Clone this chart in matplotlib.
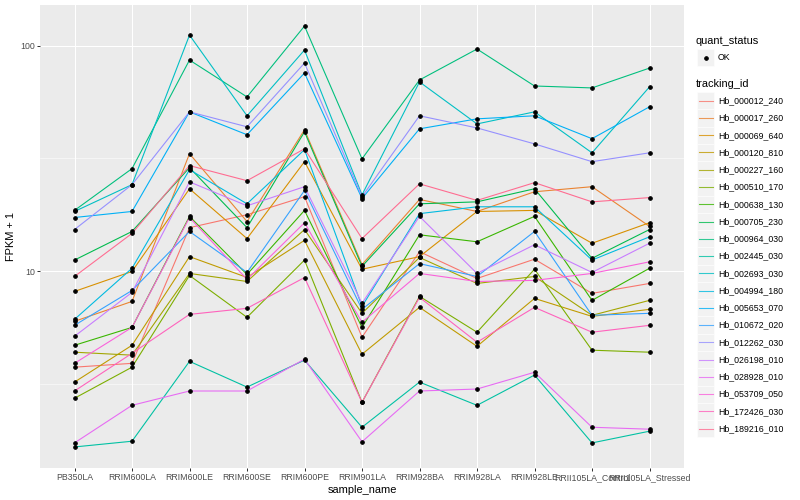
import numpy as np
import matplotlib.pyplot as plt
from matplotlib.ticker import NullFormatter
from matplotlib.patches import Rectangle

plt.rcParams['font.family'] = ['Liberation Sans', 'DejaVu Sans']

samples = ['PB350LA', 'RRIM600LA', 'RRIM600LE', 'RRIM600SE', 'RRIM600PE',
           'RRIM901LA', 'RRIM928BA', 'RRIM928LA', 'RRIM928LE',
           'RRII105LA_Control', 'RRII105LA_Stressed']

tracking_ids = ['Hb_000012_240', 'Hb_000017_260', 'Hb_000069_640', 'Hb_000120_810',
                'Hb_000227_160', 'Hb_000510_170', 'Hb_000638_130', 'Hb_000705_230',
                'Hb_000964_030', 'Hb_002445_030', 'Hb_002693_030', 'Hb_004994_180',
                'Hb_005653_070', 'Hb_010672_020', 'Hb_012262_030', 'Hb_026198_010',
                'Hb_028928_010', 'Hb_053709_050', 'Hb_172426_030', 'Hb_189216_010']

# FPKM + 1 per gene, in sample order
hb_000012_240 = [3.75, 3.90, 15.6, 17.8, 21.4, 5.09, 12.2, 9.28, 11.3, 7.97, 8.82]
hb_000017_260 = [5.99, 7.34, 33.2, 16.6, 42.4, 10.7, 20.8, 18.4, 22.5, 23.7, 15.8]
hb_000069_640 = [8.13, 9.97, 23.2, 13.95, 30.6, 10.2, 11.6, 18.4, 18.6, 13.3, 16.4]
hb_000120_810 = [3.22, 4.69, 11.6, 9.38, 13.7, 4.28, 6.91, 4.64, 7.57, 6.30, 6.77]
hb_000227_160 = [4.37, 4.24, 9.77, 9.00, 15.3, 6.50, 11.5, 8.82, 9.47, 6.37, 7.42]
hb_000510_170 = [2.73, 3.75, 9.57, 6.24, 11.2, 2.62, 7.73, 5.36, 10.2, 4.46, 4.37]
hb_000638_130 = [4.69, 5.63, 17.5, 9.67, 18.6, 5.63, 14.5, 13.5, 17.5, 7.42, 10.3]
hb_000705_230 = [11.2, 15.0, 28.8, 15.6, 41.5, 10.5, 19.9, 20.3, 23.2, 11.4, 15.3]
hb_000964_030 = [18.6, 28.5, 86.4, 59.3, 122.3, 31.5, 70.5, 96.7, 66.3, 65.0, 79.6]
hb_002445_030 = [1.66, 1.76, 3.98, 3.06, 4.03, 2.03, 3.22, 2.54, 3.46, 1.73, 1.95]
hb_002693_030 = [18.4, 24.2, 111.5, 48.9, 95.7, 21.8, 69.1, 45.0, 50.9, 33.5, 65.7]
hb_004994_180 = [6.11, 10.3, 28.2, 19.9, 34.6, 6.98, 18.0, 19.3, 19.3, 11.2, 14.2]
hb_005653_070 = [17.3, 18.4, 50.9, 40.3, 75.7, 21.0, 42.8, 47.4, 48.9, 38.7, 53.6]
hb_010672_020 = [5.75, 8.21, 15.0, 9.87, 22.8, 6.77, 10.8, 9.47, 15.0, 6.37, 6.50]
hb_012262_030 = [15.3, 24.2, 50.9, 43.7, 83.8, 21.4, 48.9, 43.2, 36.7, 30.6, 33.5]
hb_026198_010 = [5.14, 8.05, 24.9, 19.5, 23.7, 7.20, 17.5, 9.77, 13.1, 9.87, 13.3]
hb_028928_010 = [1.73, 2.54, 2.94, 2.94, 4.07, 1.75, 2.94, 3.00, 3.56, 2.03, 1.99]
hb_053709_050 = [3.90, 5.63, 17.3, 9.19, 16.4, 5.93, 9.77, 9.00, 9.10, 9.77, 11.0]
hb_172426_030 = [2.94, 4.32, 6.43, 6.84, 9.37, 2.62, 7.65, 4.84, 6.91, 5.36, 5.75]
hb_189216_010 = [9.47, 14.7, 29.4, 25.2, 34.9, 13.95, 24.4, 20.6, 24.7, 20.3, 21.2]

series = [hb_000012_240, hb_000017_260, hb_000069_640, hb_000120_810,
          hb_000227_160, hb_000510_170, hb_000638_130, hb_000705_230,
          hb_000964_030, hb_002445_030, hb_002693_030, hb_004994_180,
          hb_005653_070, hb_010672_020, hb_012262_030, hb_026198_010,
          hb_028928_010, hb_053709_050, hb_172426_030, hb_189216_010]

# ggplot2 default hue palette for 20 groups
palette = ['#F8766D', '#EA8331', '#D89000', '#C09B00', '#A3A500', '#7CAE00',
           '#39B600', '#00BB4E', '#00BF7D', '#00C1A3', '#00BFC4', '#00BAE0',
           '#00B0F6', '#35A2FF', '#9590FF', '#C77CFF', '#E76BF3', '#FA62DB',
           '#FF62BC', '#FF6C91']

W, H = 800, 500
fig = plt.figure(figsize=(W / 72, H / 72), dpi=72)
ax = fig.add_axes([40 / W, 1 - 468 / H, (684 - 40) / W, (468 - 5) / H])
ax.set_facecolor('#EBEBEB')
for s in ax.spines.values():
    s.set_visible(False)

x = np.arange(len(samples))
for vals, col in zip(series, palette):
    ax.plot(x, vals, color=col, lw=1.1, zorder=2)
for vals in series:
    ax.plot(x, vals, 'o', color='black', ms=3.6, zorder=3)

ax.set_yscale('log')
allv = np.log10(np.concatenate([np.array(v) for v in series]))
lo, hi = allv.min(), allv.max()
pad = 0.05 * (hi - lo)
ax.set_ylim(10 ** (lo - pad), 10 ** (hi + pad))
ax.set_xlim(-0.6, len(samples) - 0.4)

ax.set_yticks([10, 100], labels=['10', '100'])
ax.set_yticks([10 ** 0.5, 10 ** 1.5], minor=True)
ax.yaxis.set_minor_formatter(NullFormatter())
ax.set_xticks(x, labels=samples)
ax.tick_params(which='major', length=2.75, width=1.0, color='#333333',
               labelsize=8.8, labelcolor='#4D4D4D', pad=2.2)
ax.tick_params(which='minor', length=0)
ax.set_axisbelow(True)
ax.grid(which='major', color='white', lw=1.07)
ax.grid(which='minor', axis='y', color='white', lw=0.55)

ax.set_xlabel('sample_name', fontsize=11, labelpad=3)
ax.set_ylabel('FPKM + 1', fontsize=11, labelpad=4)

# legends, in pixel coordinates
lax = fig.add_axes([0, 0, 1, 1])
lax.set_xlim(0, W)
lax.set_ylim(H, 0)
lax.axis('off')

lax.text(696, 41, 'quant_status', fontsize=11, va='center', ha='left')
lax.add_patch(Rectangle((697, 49), 17, 17, facecolor='#F2F2F2', edgecolor='white', lw=0.5))
lax.plot([705.5], [57.5], 'o', color='black', ms=3.6)
lax.text(718, 57.5, 'OK', fontsize=8.8, va='center', ha='left')

lax.text(696, 84, 'tracking_id', fontsize=11, va='center', ha='left')
for i, (name, col) in enumerate(zip(tracking_ids, palette)):
    yc = 100.7 + 17.26 * i
    lax.add_patch(Rectangle((697, yc - 8.6), 17, 17.26, facecolor='#F2F2F2',
                            edgecolor='white', lw=0.5))
    lax.plot([698.5, 712.5], [yc, yc], color=col, lw=1.1, alpha=0.8)
    lax.text(718, yc, name, fontsize=8.8, va='center', ha='left')

fig.savefig('out.png', dpi=72)
